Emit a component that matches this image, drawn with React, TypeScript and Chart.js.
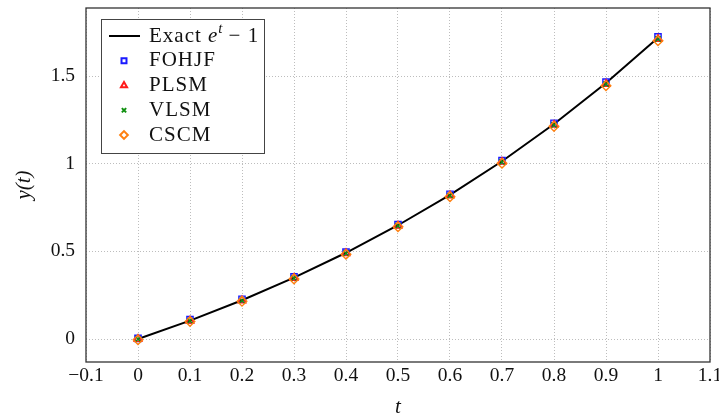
import { useEffect, useRef } from "react";
import { Chart, registerables } from "chart.js";
import { drawPoint } from "chart.js/helpers";

Chart.register(...registerables);

// Sample times and solution values
const tValues = [0, 0.1, 0.2, 0.3, 0.4, 0.5, 0.6, 0.7, 0.8, 0.9, 1.0];
const exactValues = [0, 0.105, 0.221, 0.35, 0.492, 0.649, 0.822, 1.014, 1.226, 1.46, 1.718];
const fohjfValues = [0.004, 0.111, 0.227, 0.355, 0.496, 0.653, 0.826, 1.018, 1.231, 1.465, 1.723];
const plsmValues = [0, 0.104, 0.219, 0.348, 0.489, 0.646, 0.818, 1.01, 1.221, 1.454, 1.711];
const vlsmValues = [0, 0.104, 0.219, 0.348, 0.489, 0.646, 0.818, 1.01, 1.221, 1.454, 1.711];
const cscmValues = [-0.004, 0.1, 0.215, 0.343, 0.484, 0.64, 0.812, 1.003, 1.213, 1.445, 1.701];

const xTicks = [-0.1, 0, 0.1, 0.2, 0.3, 0.4, 0.5, 0.6, 0.7, 0.8, 0.9, 1.0, 1.1];
const yTicks = [0, 0.5, 1, 1.5];

const FONT = "'Liberation Serif', 'DejaVu Serif', serif";

const pts = (ys: number[]) => tValues.map((t, i) => ({ x: t, y: ys[i] }));
const fmt = (v: number) => {
  const s = String(Math.round(v * 100) / 100);
  return s.startsWith("-") ? "\u2212" + s.slice(1) : s;
};

// Frame around the plot area plus a boxed legend in its upper-left corner
const framePlugin = {
  id: "frameAndLegend",
  afterDatasetsDraw(chart: any) {
    const { ctx, chartArea } = chart;
    ctx.save();
    ctx.strokeStyle = "#333";
    ctx.lineWidth = 1.3;
    ctx.strokeRect(chartArea.left, chartArea.top, chartArea.right - chartArea.left, chartArea.bottom - chartArea.top);

    const x0 = chartArea.left + 15;
    const y0 = chartArea.top + 11;
    const w = 163;
    const h = 134;
    ctx.fillStyle = "#fff";
    ctx.fillRect(x0, y0, w, h);
    ctx.strokeStyle = "#444";
    ctx.lineWidth = 1;
    ctx.strokeRect(x0 + 0.5, y0 + 0.5, w, h);

    const datasets = chart.data.datasets;
    const rowY = (i: number) => y0 + 17 + i * 24.75;
    const textX = x0 + 48;
    const markX = x0 + 23;
    ctx.textBaseline = "middle";
    ctx.textAlign = "left";
    (ctx as any).letterSpacing = "1px";
    datasets.forEach((ds: any, i: number) => {
      const y = rowY(i);
      if (ds.pointRadius === 0) {
        ctx.strokeStyle = ds.borderColor;
        ctx.lineWidth = ds.borderWidth;
        ctx.beginPath();
        ctx.moveTo(x0 + 8, y);
        ctx.lineTo(x0 + 39, y);
        ctx.stroke();
      } else {
        ctx.strokeStyle = ds.pointBorderColor;
        ctx.fillStyle = "rgba(0,0,0,0)";
        drawPoint(ctx, { pointStyle: ds.pointStyle, radius: ds.pointRadius * 0.8, borderWidth: 1.3, rotation: 0 }, markX, y);
      }
      ctx.fillStyle = "#111";
      if (ds.label === "Exact") {
        // Exact e^t − 1 with italic e and superscript t
        let x = textX;
        ctx.font = `21px ${FONT}`;
        ctx.fillText("Exact ", x, y);
        x += ctx.measureText("Exact ").width;
        ctx.font = `italic 21px ${FONT}`;
        ctx.fillText("e", x, y);
        x += ctx.measureText("e").width;
        ctx.font = `italic 15px ${FONT}`;
        ctx.fillText("t", x, y - 7);
        x += ctx.measureText("t").width + 5;
        ctx.font = `21px ${FONT}`;
        ctx.fillText("\u2212 1", x, y);
      } else {
        ctx.font = `21px ${FONT}`;
        ctx.fillText(ds.label, textX, y);
      }
    });
    ctx.restore();
  },
};

const markerSet = (label: string, data: number[], color: string, style: string, radius: number, order: number) => ({
  label,
  data: pts(data),
  showLine: false,
  borderColor: color,
  backgroundColor: "rgba(0,0,0,0)",
  pointStyle: style,
  pointRadius: radius,
  pointBorderColor: color,
  pointBackgroundColor: "rgba(0,0,0,0)",
  pointBorderWidth: 1.4,
  order,
});

const gridColor = "#bdbdbd";

export default function App() {
  const canvasRef = useRef<HTMLCanvasElement | null>(null);

  useEffect(() => {
    const canvas = canvasRef.current;
    if (!canvas) return;
    const chart = new Chart(canvas, {
      type: "line",
      data: {
        datasets: [
          {
            label: "Exact",
            data: pts(exactValues),
            borderColor: "#000",
            borderWidth: 2,
            pointRadius: 0,
            tension: 0,
            order: 5,
          } as any,
          markerSet("FOHJF", fohjfValues, "#1a1aff", "rect", 4.4, 4),
          markerSet("PLSM", plsmValues, "#ff1a1a", "triangle", 4.4, 3),
          markerSet("VLSM", vlsmValues, "#109010", "crossRot", 3.8, 2),
          markerSet("CSCM", cscmValues, "#ff8010", "rectRot", 4.8, 1),
        ],
      },
      options: {
        responsive: false,
        animation: false,
        layout: { padding: { top: 8, right: 9, left: 0, bottom: 0 } },
        plugins: { legend: { display: false }, tooltip: { enabled: false } },
        scales: {
          x: {
            type: "linear",
            min: -0.1,
            max: 1.1,
            border: { display: false, dash: [1, 2] },
            grid: { color: gridColor, lineWidth: 1, drawTicks: false },
            ticks: {
              color: "#111",
              font: { family: FONT, size: 19.5 },
              padding: 2,
              autoSkip: false,
              maxRotation: 0,
              callback: (v: any) => fmt(Number(v)),
            },
            afterBuildTicks: (s: any) => {
              s.ticks = xTicks.map((v) => ({ value: v }));
            },
            afterFit: (s: any) => {
              s.height = 57;
              s.paddingLeft = 0;
              s.paddingRight = 0;
            },
            title: {
              display: true,
              text: "t",
              color: "#111",
              font: { family: FONT, size: 21, style: "italic", lineHeight: 1 },
              padding: { top: 0, bottom: 1 },
            },
          },
          y: {
            type: "linear",
            min: -0.131,
            max: 1.888,
            border: { display: false, dash: [1, 2] },
            grid: { color: gridColor, lineWidth: 1, drawTicks: false },
            ticks: {
              color: "#111",
              font: { family: FONT, size: 19.5 },
              padding: 11,
              autoSkip: false,
              callback: (v: any) => fmt(Number(v)),
            },
            afterBuildTicks: (s: any) => {
              s.ticks = yTicks.map((v) => ({ value: v }));
            },
            afterFit: (s: any) => {
              s.width = 86;
              s.paddingTop = 0;
              s.paddingBottom = 0;
            },
            title: {
              display: true,
              text: "y(t)",
              color: "#111",
              font: { family: FONT, size: 21, style: "italic", lineHeight: 1 },
              padding: { top: 14, bottom: 0 },
            },
          },
        },
      },
      plugins: [framePlugin],
    } as any);
    return () => chart.destroy();
  }, []);

  return (
    <div style={{ position: "fixed", left: 0, top: 0, width: 719, height: 419, background: "#fff" }}>
      <canvas ref={canvasRef} width={719} height={419} style={{ display: "block" }} />
    </div>
  );
}
